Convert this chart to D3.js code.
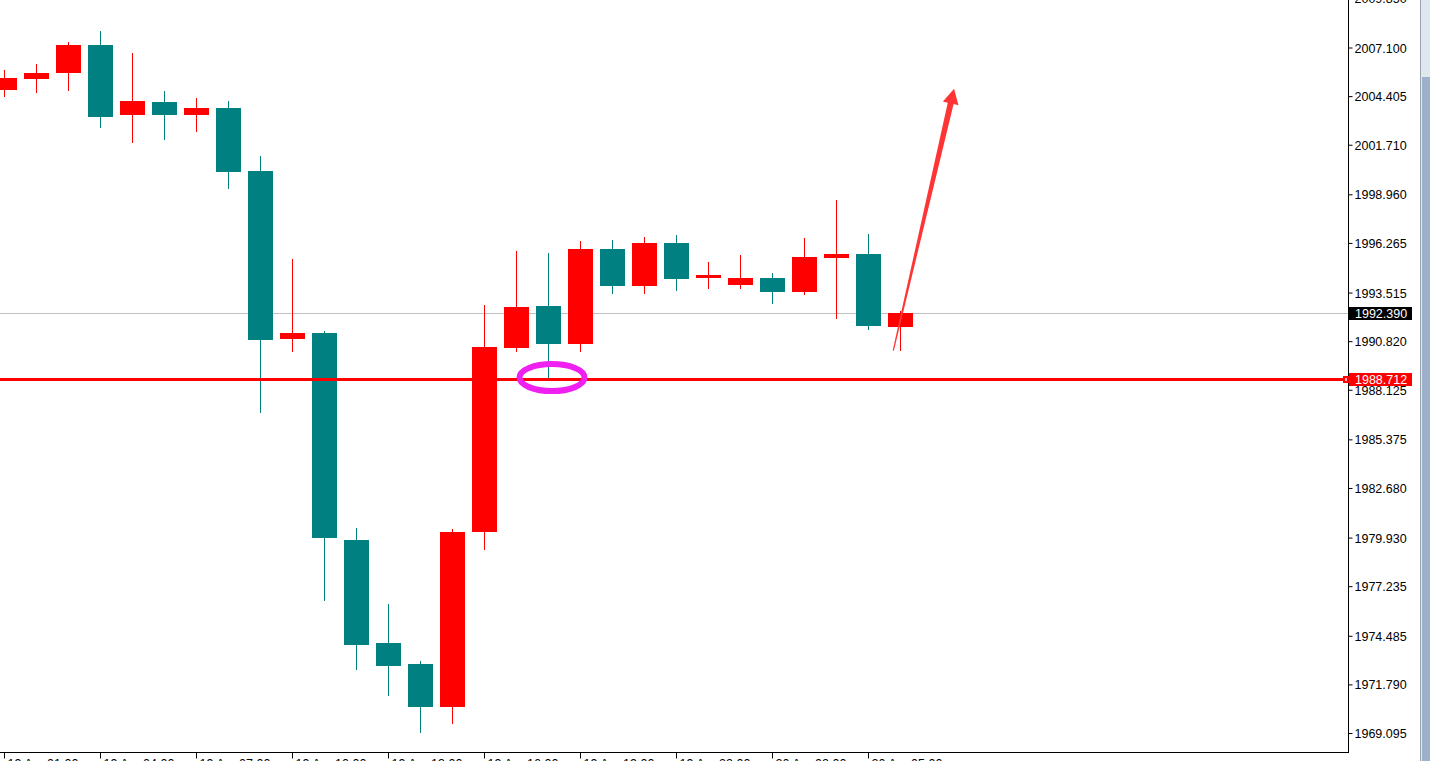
<!DOCTYPE html>
<html><head><meta charset="utf-8">
<script src="https://cdn.jsdelivr.net/npm/d3@7"></script>
<style>html,body{margin:0;padding:0;background:#fff;overflow:hidden}</style>
</head><body>
<svg id="c" width="1430" height="761"></svg>
<script>
// Hourly candles, XAUUSD
const times = ["19 Apr 01:00","19 Apr 02:00","19 Apr 03:00","19 Apr 04:00","19 Apr 05:00","19 Apr 06:00","19 Apr 07:00","19 Apr 08:00","19 Apr 09:00","19 Apr 10:00","19 Apr 11:00","19 Apr 12:00","19 Apr 13:00","19 Apr 14:00","19 Apr 15:00","19 Apr 16:00","19 Apr 17:00","19 Apr 18:00","19 Apr 19:00","19 Apr 20:00","19 Apr 21:00","19 Apr 22:00","19 Apr 23:00","20 Apr 01:00","20 Apr 02:00","20 Apr 03:00","20 Apr 04:00","20 Apr 05:00","20 Apr 06:00"];
const open  = [2004.77,2005.38,2005.66,2007.25,2003.33,2004.09,2003.38,2003.75,2000.26,1990.94,1991.27,1979.79,1974.08,1972.92,1970.53,1980.24,1990.46,1992.77,1990.68,1995.93,1993.90,1996.27,1994.34,1993.95,1994.32,1993.56,1995.45,1995.65,1991.62];
const high  = [2005.86,2006.19,2007.41,2008.02,2006.80,2004.70,2004.31,2004.14,2001.09,1995.38,1991.38,1980.46,1976.24,1973.08,1980.40,1992.83,1995.82,1995.71,1996.38,1996.43,1996.60,1996.71,1995.21,1995.60,1994.60,1996.54,1998.65,1996.76,1992.51];
const low   = [2004.38,2004.60,2004.71,2002.66,2001.83,2001.99,2002.44,1999.28,1986.84,1990.22,1976.41,1972.58,1971.14,1969.09,1969.59,1979.24,1990.24,1988.79,1990.24,1993.45,1993.45,1993.62,1993.73,1993.73,1992.90,1993.40,1992.07,1991.46,1990.29];
const close = [2005.42,2005.69,2007.25,2003.27,2004.14,2003.33,2003.75,2000.22,1990.89,1991.27,1979.90,1973.97,1972.80,1970.53,1980.24,1990.50,1992.72,1990.68,1995.93,1993.90,1996.27,1994.29,1994.49,1994.32,1993.56,1995.49,1995.65,1991.68,1992.39];

const priceTicks = [2009.850,2007.100,2004.405,2001.710,1998.960,1996.265,1993.515,1990.820,1988.125,1985.375,1982.680,1979.930,1977.235,1974.485,1971.790,1969.095];
const timeTickIdx = [0,3,6,9,12,15,18,21,24,27];

const currentPrice = 1992.390;
const levelPrice = 1988.712;
const circleAt = {i: 17.125, p: 1988.80};
const arrowFrom = {i: 27.79, p: 1990.29};
const arrowTo = {i: 29.69, p: 2004.81};

const UP = "#ff0000", DOWN = "#008080";
const FONT = "'Liberation Sans', Arial, sans-serif";

const svg = d3.select("#c");
const axisX = 1348, axisY = 752;
const x = d3.scaleLinear().domain([0, 28]).range([4, 900]);
const y = d3.scaleLinear().domain([1969.095, 2007.1]).range([733, 47.5]);

svg.append("rect").attr("width",1430).attr("height",761).attr("fill","#fff");

const plot = svg.append("g");
plot.append("clipPath").attr("id","clip").append("rect").attr("x",0).attr("y",0).attr("width",axisX).attr("height",axisY);
const pg = plot.append("g").attr("clip-path","url(#clip)");

// current price grey line
pg.append("line").attr("x1",0).attr("x2",axisX).attr("y1",Math.round(y(currentPrice))+0.5).attr("y2",Math.round(y(currentPrice))+0.5)
  .attr("stroke","#c0c0c0").attr("stroke-width",1);

const data = times.map((t,i)=>({t,i,o:open[i],h:high[i],l:low[i],c:close[i]}));

// wicks
pg.selectAll("rect.wick").data(data).join("rect").attr("class","wick")
  .attr("x", d=>Math.round(x(d.i)))
  .attr("width",1)
  .attr("y", d=>Math.round(y(d.h)))
  .attr("height", d=>Math.max(1, Math.round(y(d.l)) - Math.round(y(d.h))))
  .attr("fill", d=> d.c>=d.o ? UP : DOWN);

// bodies
pg.selectAll("rect.body").data(data).join("rect").attr("class","body")
  .attr("x", d=>Math.round(x(d.i))-12)
  .attr("width",25)
  .attr("y", d=>Math.round(y(Math.max(d.o,d.c))))
  .attr("height", d=>Math.max(2, Math.round(y(Math.min(d.o,d.c))) - Math.round(y(Math.max(d.o,d.c)))))
  .attr("fill", d=> d.c>=d.o ? UP : DOWN);

// level line
const ly = Math.round(y(levelPrice));
pg.append("rect").attr("x",0).attr("width",axisX-5).attr("y",ly-1).attr("height",3).attr("fill","#ff0000");

// magenta ellipse
pg.append("ellipse").attr("cx",x(circleAt.i)).attr("cy",y(circleAt.p)).attr("rx",32.5).attr("ry",13.5)
  .attr("fill","none").attr("stroke","#f020f0").attr("stroke-width",6);

// arrow (tapered)
(function(){
  const x0=x(arrowFrom.i), y0=y(arrowFrom.p), x1=x(arrowTo.i), y1=y(arrowTo.p);
  const dx=x1-x0, dy=y1-y0, L=Math.hypot(dx,dy);
  const ux=dx/L, uy=dy/L, nx=-uy, ny=ux;
  const headLen=15, wTail=1.2, wShaft=6, wHead=16;
  const bx=x1-ux*headLen, by=y1-uy*headLen;
  const pts=[
    [x0+nx*wTail/2, y0+ny*wTail/2],
    [bx+nx*wShaft/2, by+ny*wShaft/2],
    [bx+nx*wHead/2, by+ny*wHead/2],
    [x1,y1],
    [bx-nx*wHead/2, by-ny*wHead/2],
    [bx-nx*wShaft/2, by-ny*wShaft/2],
    [x0-nx*wTail/2, y0-ny*wTail/2]
  ];
  pg.append("polygon").attr("points",pts.map(p=>p.join(",")).join(" ")).attr("fill","#ff3535");
})();

// right price axis
const ya = svg.append("g").attr("transform",`translate(${axisX+0.5},0)`)
  .call(d3.axisRight(y).tickValues(priceTicks).tickSize(4).tickFormat(d3.format(".3f")));
ya.select(".domain").remove();
ya.selectAll(".tick line").attr("stroke","#000");
ya.selectAll(".tick text").attr("x",6).attr("dy","0.36em").attr("font-family",FONT).attr("font-size","12.5px").attr("fill","#000");
svg.append("line").attr("x1",axisX+0.5).attr("x2",axisX+0.5).attr("y1",0).attr("y2",axisY+1).attr("stroke","#000");

// bottom time axis
const xa = svg.append("g").attr("transform",`translate(0,${axisY+0.5})`)
  .call(d3.axisBottom(x).tickValues(timeTickIdx).tickSize(6).tickFormat(i=>times[i]));
xa.select(".domain").remove();
xa.selectAll(".tick line").attr("stroke","#000");
xa.selectAll(".tick text").attr("text-anchor","start").attr("x",3).attr("y",7).attr("dy","0.71em")
  .attr("font-family",FONT).attr("font-size","12.5px").attr("fill","#000");
svg.append("line").attr("x1",0).attr("x2",axisX+1).attr("y1",axisY+0.5).attr("y2",axisY+0.5).attr("stroke","#000");

// price labels
function priceLabel(p, bg){
  const cy = Math.round(y(p));
  svg.append("rect").attr("x",axisX+1).attr("y",cy-6).attr("width",63).attr("height",13).attr("fill",bg);
  svg.append("text").attr("x",axisX+7).attr("y",cy).attr("dy","0.36em").attr("font-family",FONT).attr("font-size","12.5px")
    .attr("fill","#fff").text(d3.format(".3f")(p));
}
priceLabel(currentPrice, "#000");
priceLabel(levelPrice, "#ff0000");
svg.append("rect").attr("x",axisX-5).attr("y",ly-3).attr("width",6).attr("height",7).attr("fill","#ff0000");
svg.append("rect").attr("x",axisX-3).attr("y",ly-1).attr("width",2).attr("height",3).attr("fill","#ffb0b0");

// scrollbar
svg.append("rect").attr("x",1420).attr("y",0).attr("width",10).attr("height",761).attr("fill","#e1e7ef");
svg.append("rect").attr("x",1422).attr("y",77).attr("width",8).attr("height",684).attr("fill","#9db1cb");
svg.append("line").attr("x1",1420.5).attr("x2",1420.5).attr("y1",0).attr("y2",761).attr("stroke","#9aa3ae");
</script>
</body></html>
